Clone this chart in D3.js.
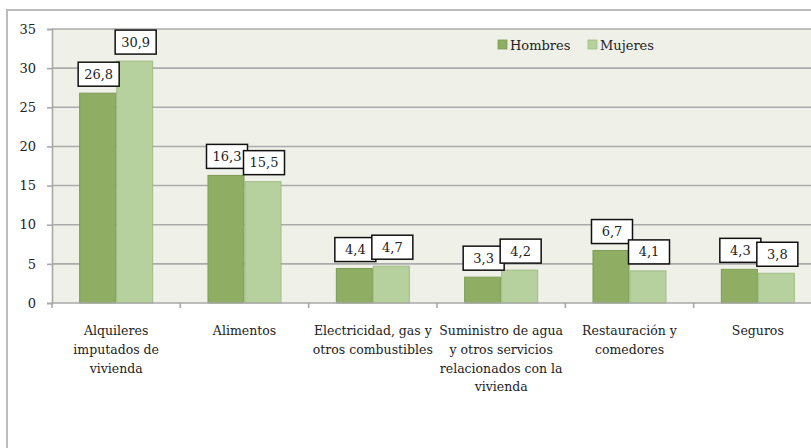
<!DOCTYPE html>
<html>
<head>
<meta charset="utf-8">
<script src="https://cdn.jsdelivr.net/npm/d3@7"></script>
<style>
  body { margin: 0; background: #fff; }
  text { font-family: "DejaVu Serif", serif; fill: #222; }
</style>
</head>
<body>
<div id="chart"></div>
<script>
var categories = ["Alquileres imputados de vivienda", "Alimentos", "Electricidad, gas y otros combustibles",
                  "Suministro de agua y otros servicios relacionados con la vivienda", "Restauración y comedores", "Seguros"];
var categoryLines = [["Alquileres", "imputados de", "vivienda"], ["Alimentos"], ["Electricidad, gas y", "otros combustibles"],
                     ["Suministro de agua", "y otros servicios", "relacionados con la", "vivienda"], ["Restauración y", "comedores"], ["Seguros"]];
var series = ["Hombres", "Mujeres"];
var hombres = [26.8, 16.3, 4.4, 3.3, 6.7, 4.3];
var mujeres = [30.9, 15.5, 4.7, 4.2, 4.1, 3.8];
var yTicks = [0, 5, 10, 15, 20, 25, 30, 35];

var colors = {Hombres: "#8fae63", Mujeres: "#b6d19d"};
var strokes = {Hombres: "#7b9b52", Mujeres: "#9fbd84"};

var width = 811, height = 448;
var plotLeft = 52, plotTop = 29, plotBottom = 303, plotRight = 822;

var svg = d3.select("#chart").append("svg")
    .attr("width", width)
    .attr("height", height);

// outer frame
svg.append("rect")
    .attr("x", 7).attr("y", 10)
    .attr("width", 820).attr("height", 460)
    .attr("fill", "#fff")
    .attr("stroke", "#bcbcbc")
    .attr("stroke-width", 2);

var x0 = d3.scaleBand().domain(categories).range([plotLeft, plotRight]).padding(0);
var x1 = d3.scaleBand().domain(series).range([0, x0.bandwidth()]).paddingInner(0).paddingOuter(0.734);
var y = d3.scaleLinear().domain([0, 35]).range([plotBottom, plotTop]);

// plot background
svg.append("rect")
    .attr("x", plotLeft).attr("y", plotTop)
    .attr("width", plotRight - plotLeft).attr("height", plotBottom - plotTop)
    .attr("fill", "#eff0e8");

// gridlines
svg.append("g").selectAll("line")
    .data(yTicks.slice(1))
    .enter().append("line")
    .attr("x1", plotLeft).attr("x2", plotRight)
    .attr("y1", function(d) { return y(d); })
    .attr("y2", function(d) { return y(d); })
    .attr("stroke", "#ababab")
    .attr("stroke-width", 1.6);

// y axis
var yAxis = svg.append("g")
    .attr("transform", "translate(" + plotLeft + ",0)")
    .call(d3.axisLeft(y).tickValues(yTicks).tickSize(5).tickPadding(11).tickFormat(d3.format("d")));
yAxis.select(".domain").attr("stroke", "#a8a8a8").attr("stroke-width", 1.6);
yAxis.selectAll(".tick line").attr("stroke", "#a8a8a8").attr("stroke-width", 1.6);
yAxis.selectAll(".tick text")
    .style("font-family", "DejaVu Serif, serif")
    .style("font-size", "13px")
    .attr("fill", "#222");

// bars
var rows = categories.map(function(c, i) {
    return {cat: c, values: [{s: "Hombres", v: hombres[i]}, {s: "Mujeres", v: mujeres[i]}]};
});

var groups = svg.append("g").selectAll("g")
    .data(rows)
    .enter().append("g")
    .attr("transform", function(d) { return "translate(" + x0(d.cat) + ",0)"; });

groups.selectAll("rect")
    .data(function(d) { return d.values; })
    .enter().append("rect")
    .attr("x", function(d) { return x1(d.s) + 0.5; })
    .attr("y", function(d) { return y(d.v); })
    .attr("width", x1.bandwidth() - 1)
    .attr("height", function(d) { return plotBottom - y(d.v); })
    .attr("fill", function(d) { return colors[d.s]; })
    .attr("stroke", function(d) { return strokes[d.s]; })
    .attr("stroke-width", 1);

// x axis line and boundary ticks
var bounds = categories.map(function(c) { return x0(c); }).concat([plotRight]);
svg.append("line")
    .attr("x1", plotLeft).attr("x2", plotRight)
    .attr("y1", plotBottom).attr("y2", plotBottom)
    .attr("stroke", "#a8a8a8").attr("stroke-width", 1.6);
svg.append("g").selectAll("line")
    .data(bounds)
    .enter().append("line")
    .attr("x1", function(d) { return d; }).attr("x2", function(d) { return d; })
    .attr("y1", plotBottom).attr("y2", plotBottom + 5)
    .attr("stroke", "#a8a8a8").attr("stroke-width", 1.6);

// category labels
var catLabels = svg.append("g").selectAll("text")
    .data(categories)
    .enter().append("text")
    .attr("text-anchor", "middle")
    .style("font-size", "12.5px")
    .attr("transform", function(d) { return "translate(" + (x0(d) + x0.bandwidth() / 2) + ",335)"; });
catLabels.selectAll("tspan")
    .data(function(d, i) { return categoryLines[i]; })
    .enter().append("tspan")
    .attr("x", 0)
    .attr("y", function(d, i) { return i * 18.8; })
    .text(function(d) { return d; });

// value labels (boxed)
function fmt(v) { return d3.format(".1f")(v).replace(".", ","); }

series.forEach(function(s, si) {
    var vals = si === 0 ? hombres : mujeres;
    var lab = svg.append("g").selectAll("g")
        .data(vals)
        .enter().append("g")
        .attr("transform", function(d, i) {
            var cx = x0(categories[i]) + x1(s) + x1.bandwidth() / 2 + 1;
            return "translate(" + cx + "," + (y(d) - 7) + ")";
        });
    lab.append("rect")
        .attr("x", -20.5).attr("y", -24)
        .attr("width", 41).attr("height", 24)
        .attr("fill", "#fff")
        .attr("stroke", "#111")
        .attr("stroke-width", 1.5);
    lab.append("text")
        .attr("text-anchor", "middle")
        .attr("y", -7.5)
        .style("font-size", "13px")
        .text(function(d) { return fmt(d); });
});

// legend
var legend = svg.append("g").selectAll("g")
    .data(series)
    .enter().append("g")
    .attr("transform", function(d, i) { return "translate(" + (498 + i * 90) + ",40)"; });
legend.append("rect")
    .attr("width", 9).attr("height", 9)
    .attr("fill", function(d) { return colors[d]; })
    .attr("stroke", function(d) { return strokes[d]; })
    .attr("stroke-width", 0.8);
legend.append("text")
    .attr("x", 12).attr("y", 9.5)
    .style("font-size", "13px")
    .text(function(d) { return d; });
</script>
</body>
</html>
